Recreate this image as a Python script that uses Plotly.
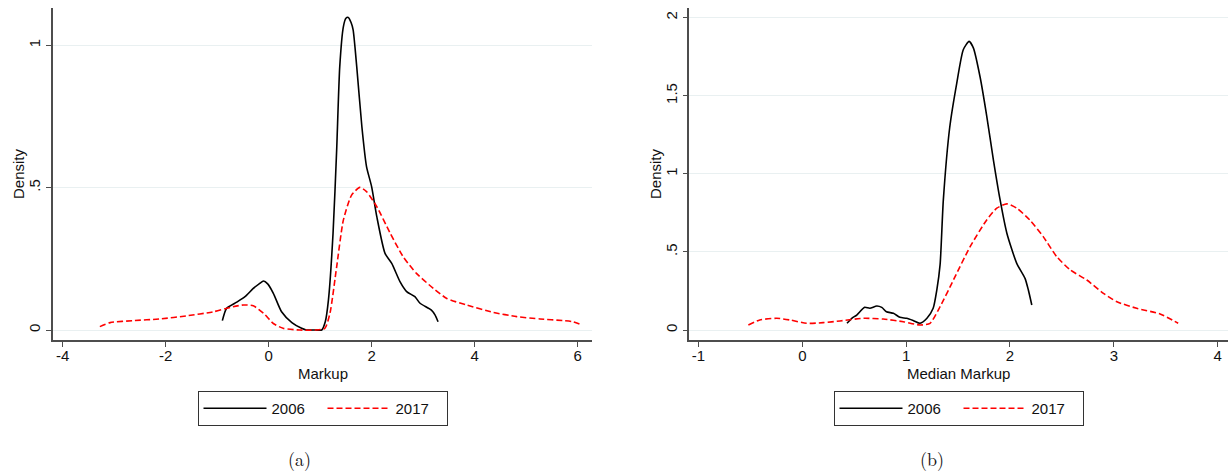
import plotly.graph_objects as go

# Kernel density of markups, panel (a)
markup_x_2006 = [-0.90, -0.82, -0.62, -0.46, -0.30, -0.18, -0.10, -0.02, 0.09, 0.25, 0.45, 0.64, 0.73,
                 0.90, 1.03, 1.10, 1.16, 1.25, 1.32, 1.38, 1.45, 1.50, 1.545, 1.60, 1.64, 1.71, 1.81,
                 1.90, 2.00, 2.10, 2.26, 2.39, 2.55, 2.68, 2.84, 2.94, 3.16, 3.23, 3.29]
markup_y_2006 = [0.033, 0.076, 0.098, 0.117, 0.146, 0.163, 0.172, 0.162, 0.129, 0.064, 0.026, 0.006, 0.0,
                 0.0, 0.0, 0.03, 0.105, 0.34, 0.632, 0.925, 1.065, 1.095, 1.098, 1.08, 1.054, 0.925, 0.714,
                 0.574, 0.503, 0.398, 0.269, 0.234, 0.170, 0.135, 0.117, 0.094, 0.070, 0.053, 0.029]
markup_x_2017 = [-3.28, -3.08, -2.63, -2.11, -1.59, -1.08, -0.69, -0.49, -0.30, -0.10, 0.09, 0.28, 0.60,
                 0.90, 1.09, 1.19, 1.32, 1.45, 1.61, 1.77, 1.90, 2.10, 2.36, 2.61, 2.87, 3.20, 3.46,
                 3.84, 4.36, 4.82, 5.27, 5.72, 5.91, 6.08]
markup_y_2017 = [0.012, 0.026, 0.033, 0.039, 0.050, 0.064, 0.082, 0.088, 0.085, 0.059, 0.023, 0.006, 0.0,
                 0.0, 0.006, 0.059, 0.222, 0.386, 0.474, 0.501, 0.486, 0.433, 0.340, 0.258, 0.199, 0.146, 0.111,
                 0.088, 0.062, 0.047, 0.039, 0.033, 0.029, 0.018]

# Kernel density of median markups, panel (b)
median_x_2006 = [0.43, 0.476, 0.524, 0.60, 0.65, 0.717, 0.765, 0.81, 0.877, 0.94, 1.005, 1.07, 1.134,
                 1.20, 1.26, 1.295, 1.327, 1.358, 1.42, 1.487, 1.55, 1.606, 1.648, 1.712, 1.776, 1.84,
                 1.905, 1.97, 2.065, 2.145, 2.177, 2.21]
median_y_2006 = [0.043, 0.075, 0.096, 0.145, 0.139, 0.154, 0.145, 0.117, 0.107, 0.081, 0.075, 0.060, 0.043,
                 0.075, 0.139, 0.256, 0.42, 0.833, 1.30, 1.58, 1.795, 1.848, 1.805, 1.62, 1.37, 1.09,
                 0.833, 0.62, 0.427, 0.331, 0.256, 0.160]
median_x_2017 = [-0.52, -0.41, -0.247, -0.118, 0.04, 0.20, 0.363, 0.59, 0.78, 0.973, 1.134, 1.23, 1.327,
                 1.455, 1.616, 1.776, 1.873, 1.97, 2.065, 2.19, 2.32, 2.45, 2.58, 2.74, 2.90, 3.03,
                 3.22, 3.446, 3.62]
median_y_2017 = [0.032, 0.064, 0.075, 0.064, 0.043, 0.047, 0.058, 0.075, 0.070, 0.053, 0.032, 0.043, 0.15,
                 0.32, 0.534, 0.705, 0.78, 0.808, 0.78, 0.705, 0.598, 0.47, 0.385, 0.32, 0.235, 0.181,
                 0.139, 0.103, 0.043]

series_names = ["2006", "2017"]
left_xticks = [-4, -2, 0, 2, 4, 6]
left_xlabels = ["-4", "-2", "0", "2", "4", "6"]
left_yticks = [0, 0.5, 1]
left_ylabels = ["0", ".5", "1"]
right_xticks = [-1, 0, 1, 2, 3, 4]
right_xlabels = ["-1", "0", "1", "2", "3", "4"]
right_yticks = [0, 0.5, 1, 1.5, 2]
right_ylabels = ["0", ".5", "1", "1.5", "2"]

W, H = 1231, 472
FONT = "Liberation Sans, Arial, Helvetica, sans-serif"
SERIF = "Latin Modern Roman, DejaVu Serif, Liberation Serif, serif"
AXIS_COLOR = "#4d4d4d"
GRID_COLOR = "#e9f0f1"
TEXT_COLOR = "#111"
RED = "#ff0000"

fig = go.Figure()

panels = [
    (markup_x_2006, markup_y_2006, markup_x_2017, markup_y_2017, "x", "y", "legend"),
    (median_x_2006, median_y_2006, median_x_2017, median_y_2017, "x2", "y2", "legend2"),
]
for x6, y6, x17, y17, xa, ya, lg in panels:
    fig.add_trace(go.Scatter(x=x6, y=y6, mode="lines", name=series_names[0],
                             line=dict(color="black", width=1.6, shape="spline", smoothing=0.6),
                             xaxis=xa, yaxis=ya, legend=lg))
    fig.add_trace(go.Scatter(x=x17, y=y17, mode="lines", name=series_names[1],
                             line=dict(color=RED, width=1.6, dash="6px,3px", shape="spline", smoothing=0.6),
                             xaxis=xa, yaxis=ya, legend=lg))

ybot, ytop = 1 - 340 / H, 1 - 8 / H
tickfont = dict(family=FONT, size=15, color=TEXT_COLOR)

common_x = dict(showline=True, linecolor=AXIS_COLOR, linewidth=1.6, ticks="outside", ticklen=5,
                tickcolor=AXIS_COLOR, tickwidth=1.3, showgrid=False, zeroline=False, tickfont=tickfont,
                ticklabelstandoff=-4)
common_y = dict(showline=True, linecolor=AXIS_COLOR, linewidth=1.6, ticks="outside", ticklen=5,
                tickcolor=AXIS_COLOR, tickwidth=1.3, showgrid=True, gridcolor=GRID_COLOR, gridwidth=1.3,
                zeroline=False, tickangle=-90, tickfont=tickfont)

legend_common = dict(orientation="h", xanchor="center", y=1 - 391 / H, yanchor="top",
                     bordercolor="#333", borderwidth=1, itemwidth=63, entrywidth=46,
                     font=dict(family=FONT, size=15, color=TEXT_COLOR), bgcolor="white")


def label(text, x, y, angle=0, font=FONT, size=15):
    return dict(text=text, x=x / W, y=1 - y / H, xref="paper", yref="paper", showarrow=False,
                xanchor="center", yanchor="middle", textangle=angle,
                font=dict(family=font, size=size, color=TEXT_COLOR))


fig.update_layout(
    width=W, height=H,
    margin=dict(l=0, r=0, t=0, b=0),
    paper_bgcolor="white", plot_bgcolor="white",
    xaxis=dict(domain=[53 / W, 592 / W], range=[-4.19, 6.28], tickvals=left_xticks,
               ticktext=left_xlabels, anchor="y", **common_x),
    yaxis=dict(domain=[ybot, ytop], range=[-0.035, 1.131], tickvals=left_yticks,
               ticktext=left_ylabels, anchor="x", **common_y),
    xaxis2=dict(domain=[689.3 / W, 1228 / W], range=[-1.089, 4.10], tickvals=right_xticks,
                ticktext=right_xlabels, anchor="y2", **common_x),
    yaxis2=dict(domain=[ybot, ytop], range=[-0.064, 2.062], tickvals=right_yticks,
                ticktext=right_ylabels, anchor="x2", **common_y),
    legend=dict(x=322.5 / W, **legend_common),
    legend2=dict(x=958.5 / W, **legend_common),
    annotations=[
        label("Markup", 322.5, 373),
        label("Median Markup", 958.5, 373),
        label("Density", 18, 174, angle=-90),
        label("Density", 655, 174, angle=-90),
        label("(a)", 299, 458, font=SERIF, size=18),
        label("(b)", 932, 458, font=SERIF, size=18),
    ],
)

fig.write_html("out.html")
